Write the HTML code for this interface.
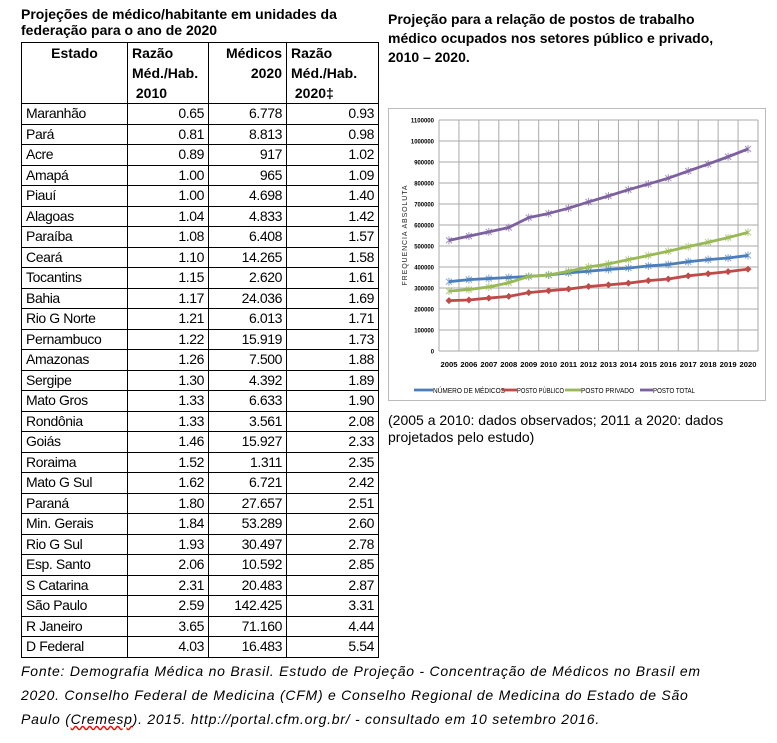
<!DOCTYPE html>
<html><head><meta charset="utf-8">
<style>
body{margin:0;width:777px;height:743px;background:#fff;font-family:"Liberation Sans",sans-serif;position:relative;overflow:hidden;color:#000}
.t{position:absolute;left:21px;top:6px;font-weight:bold;font-size:14px;line-height:16px;width:360px}
table{position:absolute;left:21px;top:42px;border-collapse:collapse;font-size:14px;table-layout:fixed}
td,th{border:1px solid #000;padding:0 4px;height:19.5px;line-height:19px;white-space:nowrap;letter-spacing:-0.4px}
th{font-weight:bold;vertical-align:top;height:60px;line-height:20px;letter-spacing:0}
td.n{text-align:right}
.rt{position:absolute;left:388px;top:10px;font-weight:bold;font-size:14px;line-height:19px;width:360px}
.cap{position:absolute;left:388px;top:412px;font-size:14px;line-height:17px;width:385px}
.foot{position:absolute;left:21px;top:659px;font-style:italic;font-size:14px;line-height:24px;width:760px;white-space:nowrap;letter-spacing:0.75px}
</style></head><body>
<div class="t">Projeções de médico/habitante em unidades da federação para o ano de 2020</div>
<table>
<colgroup><col style="width:106px"><col style="width:81px"><col style="width:78px"><col style="width:92px"></colgroup>
<tr><th style="text-align:center">Estado</th><th style="text-align:left">Razão<br>Méd./Hab.<br>&nbsp;2010</th><th style="text-align:right">Médicos<br>2020</th><th style="text-align:left">Razão<br>Méd./Hab.<br>&nbsp;2020‡</th></tr>
<tbody id="tb"></tbody>
</table>
<div class="rt">Projeção para a relação de postos de trabalho<br>médico ocupados nos setores público e privado,<br>2010 – 2020.</div>
<svg id="ch" style="position:absolute;left:0;top:0" width="777" height="743"></svg>
<div class="cap">(2005 a 2010: dados observados; 2011 a 2020: dados projetados pelo estudo)</div>
<div class="foot">Fonte: Demografia Médica no Brasil. Estudo de Projeção - Concentração de Médicos no Brasil em<br>2020. Conselho Federal de Medicina (CFM) e Conselho Regional de Medicina do Estado de São<br>Paulo (<span style="text-decoration:underline wavy red">Cremesp</span>). 2015. http://portal.cfm.org.br/ - consultado em 10 setembro 2016.</div>
<script>
const states=["Maranhão","Pará","Acre","Amapá","Piauí","Alagoas","Paraíba","Ceará","Tocantins","Bahia","Rio G Norte","Pernambuco","Amazonas","Sergipe","Mato Gros","Rondônia","Goiás","Roraima","Mato G Sul","Paraná","Min. Gerais","Rio G Sul","Esp. Santo","S Catarina","São Paulo","R Janeiro","D Federal"];
const ratio2010=["0.65","0.81","0.89","1.00","1.00","1.04","1.08","1.10","1.15","1.17","1.21","1.22","1.26","1.30","1.33","1.33","1.46","1.52","1.62","1.80","1.84","1.93","2.06","2.31","2.59","3.65","4.03"];
const medicos2020=["6.778","8.813","917","965","4.698","4.833","6.408","14.265","2.620","24.036","6.013","15.919","7.500","4.392","6.633","3.561","15.927","1.311","6.721","27.657","53.289","30.497","10.592","20.483","142.425","71.160","16.483"];
const ratio2020=["0.93","0.98","1.02","1.09","1.40","1.42","1.57","1.58","1.61","1.69","1.71","1.73","1.88","1.89","1.90","2.08","2.33","2.35","2.42","2.51","2.60","2.78","2.85","2.87","3.31","4.44","5.54"];
const tb=document.getElementById('tb');
states.forEach((s,i)=>{const tr=document.createElement('tr');


tr.innerHTML=`<td>${s}</td><td class="n">${ratio2010[i]}</td><td class="n">${medicos2020[i]}</td><td class="n">${ratio2020[i]}</td>`;tb.appendChild(tr);});

const years=["2005","2006","2007","2008","2009","2010","2011","2012","2013","2014","2015","2016","2017","2018","2019","2020"];
const medicos=[330000,340000,345000,350000,355000,362000,372000,380000,388000,395000,405000,412000,425000,435000,443000,455000];
const publico=[240000,243000,252000,260000,278000,287000,295000,307000,315000,323000,335000,343000,358000,368000,378000,390000];
const privado=[285000,293000,305000,325000,355000,362000,380000,400000,415000,435000,455000,475000,497000,518000,540000,565000];
const total=[527000,547000,567000,588000,635000,655000,680000,710000,738000,768000,795000,823000,857000,890000,925000,962000];
const yTicks=[0,100000,200000,300000,400000,500000,600000,700000,800000,900000,1000000,1100000];
const names=["NÚMERO DE MÉDICOS","POSTO PÚBLICO","POSTO PRIVADO","POSTO TOTAL"];
const colors=["#4a7ebb","#be4b48","#98b954","#7d60a0"];
const svg=document.getElementById('ch');const NS="http://www.w3.org/2000/svg";
function el(t,a,p){const e=document.createElementNS(NS,t);for(const k in a)e.setAttribute(k,a[k]);(p||svg).appendChild(e);return e;}
const L=439,R=758,T=120,B=351,ymax=1100000;
const cw=(R-L)/years.length;
const x=i=>L+cw*(i+0.5);const y=v=>B-(v/ymax)*(B-T);
const fr=el('rect',{x:388.5,y:108.5,width:377,height:292,fill:'#fff',stroke:'#bbb'});


yTicks.forEach(v=>{const g=el('line',{x1:L,x2:R,y1:y(v),y2:y(v),stroke:'#aaa','stroke-width':1});


const t=el('text',{x:L-5,y:y(v)+2.5,'text-anchor':'end','font-size':6.5,'font-weight':'bold','font-family':'Liberation Sans, sans-serif',textLength:String(v).length*3.3,lengthAdjust:'spacingAndGlyphs'});t.textContent=v;

});
for(let i=0;i<=years.length;i++){const g=el('line',{x1:L+cw*i,x2:L+cw*i,y1:T,y2:B,stroke:'#aaa'});

}
years.forEach((yr,i)=>{const t=el('text',{x:x(i),y:B+16,'text-anchor':'middle','font-size':7.5,'font-weight':'bold','font-family':'Liberation Sans, sans-serif',textLength:17,lengthAdjust:'spacingAndGlyphs'});t.textContent=yr;

});
const at=el('text',{x:0,y:0,transform:`translate(407,235) rotate(-90)`,'text-anchor':'middle','font-size':7,'letter-spacing':0.9,fill:'#222','font-family':'Liberation Sans, sans-serif'});at.textContent="FREQUENCIA ABSOLUTA";


[medicos,publico,privado,total].forEach((s,k)=>{
const pl=el('polyline',{points:s.map((v,i)=>x(i)+','+y(v)).join(' '),fill:'none',stroke:colors[k],'stroke-width':2.8,'stroke-linejoin':'round'});


s.forEach((v,i)=>{let m;
if(k==1){m=el('path',{d:`M${x(i)} ${y(v)-3.5}L${x(i)+3.5} ${y(v)}L${x(i)} ${y(v)+3.5}L${x(i)-3.5} ${y(v)}Z`,fill:colors[k]});}
else{m=el('path',{d:`M${x(i)-3} ${y(v)-3}L${x(i)+3} ${y(v)+3}M${x(i)+3} ${y(v)-3}L${x(i)-3} ${y(v)+3}M${x(i)} ${y(v)-4}L${x(i)} ${y(v)+4}`,stroke:colors[k],'stroke-width':1,opacity:0.7});}

});
});
const sx=[414,502,565,640],sw=[19,15,16,13],tx=[433,517,581,653],tl=[72,47,53,42];
names.forEach((n,k)=>{const g=el('line',{x1:sx[k],x2:sx[k]+sw[k],y1:390,y2:390,stroke:colors[k],'stroke-width':2.8});


const t=el('text',{x:tx[k],y:393,'font-size':7.5,'font-family':'Liberation Sans, sans-serif',textLength:tl[k],lengthAdjust:'spacingAndGlyphs'});t.textContent=n;

});
</script>
</body></html>
